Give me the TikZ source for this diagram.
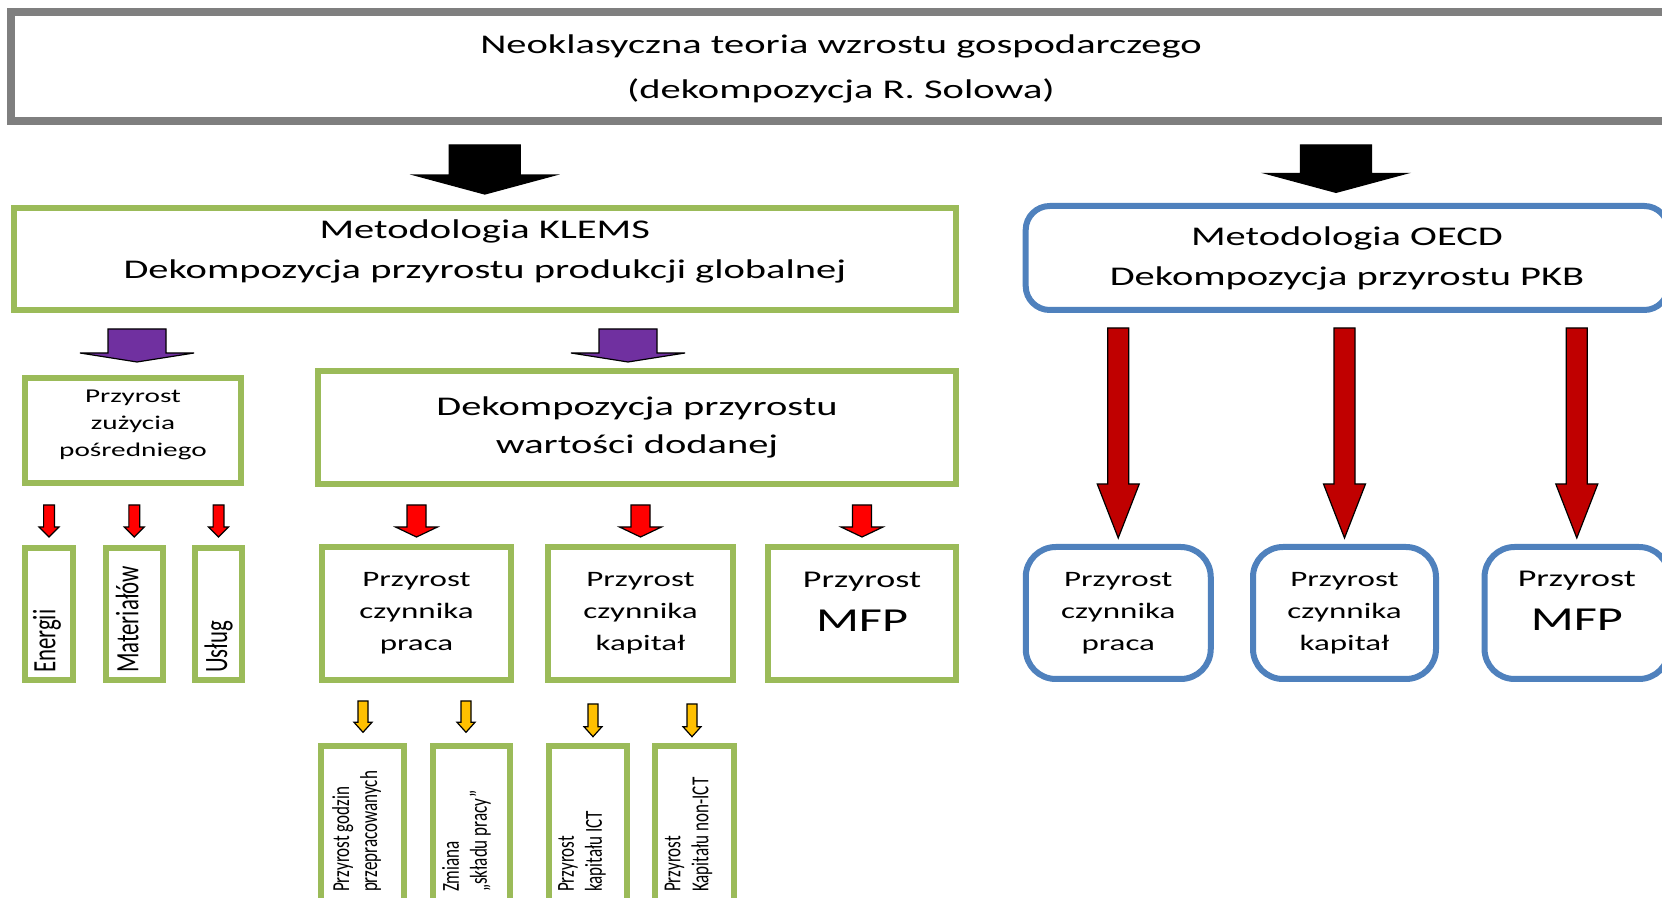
\documentclass[tikz,border=0pt]{standalone}
\usepackage{fontspec}
\setmainfont{Carlito}
\newfontfamily\widefont[FakeStretch=1.5]{Carlito}
\newfontfamily\rotfont[FakeStretch=0.7]{Carlito}
\usetikzlibrary{calc}
\definecolor{framegray}{HTML}{7F7F7F}
\definecolor{boxgreen}{HTML}{9BBB59}
\definecolor{boxblue}{HTML}{4F81BD}
\definecolor{arrpurple}{HTML}{7030A0}
\definecolor{arrred}{HTML}{FF0000}
\definecolor{arrdarkred}{HTML}{C00000}
\definecolor{arryellow}{HTML}{FFC000}
\tikzset{
  graybox/.style={draw=framegray, line width=4pt, fill=white, inner sep=0pt, align=center},
  greenbox/.style={draw=boxgreen, line width=3pt, fill=white, inner sep=0pt, align=center},
  bluebox/.style={draw=boxblue, line width=3pt, fill=white, inner sep=0pt, align=center, rounded corners=15pt},
  blockarr/.style n args={4}{fill=#4, draw=black, line width=0.6pt,
    to path={let \p1=(\tikztostart), \p2=(\tikztotarget) in
      ({\x1-#1},\y1) -- ({\x1+#1},\y1) -- ({\x1+#1},{\y2+#3}) -- ({\x1+#2},{\y2+#3})
      -- (\x1,\y2) -- ({\x1-#2},{\y2+#3}) -- ({\x1-#1},{\y2+#3}) -- cycle}},
  blackarr/.style={blockarr={17.75pt}{35.25pt}{9.5pt}{black}},
  purplearr/.style={blockarr={14.5pt}{28.5pt}{4.5pt}{arrpurple}},
  redsmall/.style={blockarr={2.7pt}{5pt}{5pt}{arrred}},
  redmid/.style={blockarr={4.75pt}{10.5pt}{5pt}{arrred}},
  yellowarr/.style={blockarr={2.5pt}{4.5pt}{5pt}{arryellow}},
  redlong/.style={blockarr={5.25pt}{10.5pt}{27pt}{arrdarkred}},
  bigtext/.style={font=\widefont\fontsize{13.5}{20}\selectfont},
  midtext/.style={font=\widefont\fontsize{11}{16}\selectfont},
  mfptext/.style={font=\widefont\fontsize{12}{21}\selectfont, text depth=12pt},
  sidetext/.style={font=\rotfont\fontsize{16.3}{18}\selectfont},
  smallside/.style={font=\rotfont\fontsize{12.2}{14}\selectfont},
}
\begin{document}
\begin{tikzpicture}[x=0.5pt, y=-0.5pt]
\useasboundingbox (0,0) rectangle (1662,898);
\clip (0,0) rectangle (1662,898);
\fill[white] (0,0) rectangle (1662,898);

% top frame
\node[graybox, minimum width=829.8pt, minimum height=54.25pt, text depth=0pt,
  font=\widefont\fontsize{13.5}{22.5}\selectfont] (title) at (841,66.75)
  {Neoklasyczna teoria wzrostu gospodarczego\\(dekompozycja R. Solowa)};

% KLEMS branch
\node[greenbox, bigtext, text depth=9.2pt, minimum width=471.2pt, minimum height=51pt] (klems) at (484.8,258.65)
  {Metodologia KLEMS\\Dekompozycja przyrostu produkcji globalnej};
\node[greenbox, font=\widefont\fontsize{9.75}{13.5}\selectfont, text depth=6.8pt, minimum width=108pt, minimum height=52.5pt] (posr) at (133,430.5)
  {Przyrost\\zużycia\\pośredniego};
\node[greenbox, font=\widefont\fontsize{13.5}{19}\selectfont, minimum width=319pt, minimum height=56.5pt] (wart) at (637,427.5)
  {Dekompozycja przyrostu\\wartości dodanej};
\node[greenbox, sidetext, minimum width=24pt, minimum height=66pt] (energii) at (49,614)
  {\rotatebox{90}{\parbox{59pt}{\raggedright Energii}}\hspace{2pt}};
\node[greenbox, sidetext, minimum width=28.75pt, minimum height=66pt] (materialow) at (134.25,614)
  {\rotatebox{90}{\parbox{59pt}{\raggedright Materiałów}}\hspace{7pt}};
\node[greenbox, sidetext, minimum width=23.5pt, minimum height=66pt] (uslug) at (218.5,614)
  {\rotatebox{90}{\parbox{59pt}{\raggedright Usług}}};
\node[greenbox, midtext, minimum width=94.5pt, minimum height=66.5pt] (praca) at (416.5,613.5)
  {Przyrost\\czynnika\\praca};
\node[greenbox, midtext, minimum width=92.5pt, minimum height=66.5pt] (kapital) at (640.5,613.5)
  {Przyrost\\czynnika\\kapitał};
\node[greenbox, mfptext, minimum width=94pt, minimum height=66.5pt] (mfp) at (862,613.5)
  {Przyrost\\[1pt]{\fontsize{16.75}{21}\selectfont MFP}};
\node[greenbox, smallside, minimum width=41.5pt, minimum height=82pt] (godzin) at (362.5,828)
  {\rotatebox{90}{\parbox{64pt}{\raggedright Przyrost godzin\\przepracowanych}}\hspace{6pt}};
\node[greenbox, smallside, minimum width=38.5pt, minimum height=82pt] (sklad) at (471.5,828)
  {\rotatebox{90}{\parbox{64pt}{\raggedright Zmiana\\ „składu pracy”}}\hspace{5pt}};
\node[greenbox, smallside, minimum width=39pt, minimum height=82pt] (ict) at (588,828)
  {\rotatebox{90}{\parbox{64pt}{\raggedright Przyrost\\kapitału ICT}}\hspace{6pt}};
\node[greenbox, smallside, minimum width=39.5pt, minimum height=82pt] (nonict) at (694.5,828)
  {\rotatebox{90}{\parbox{64pt}{\raggedright Przyrost\\Kapitału non-ICT}}\hspace{6pt}};

% OECD branch
\node[bluebox, bigtext, minimum width=321.3pt, minimum height=52pt, rounded corners=12pt] (oecd) at (1347,258)
  {Metodologia OECD\\Dekompozycja przyrostu PKB};
\node[bluebox, midtext, minimum width=92.5pt, minimum height=66pt] (pracao) at (1118.25,613)
  {Przyrost\\czynnika\\praca};
\node[bluebox, midtext, minimum width=91.5pt, minimum height=66pt] (kapitalo) at (1344.5,613)
  {Przyrost\\czynnika\\kapitał};
\node[bluebox, mfptext, minimum width=92.25pt, minimum height=66pt] (mfpo) at (1576.8,613)
  {Przyrost\\[1pt]{\fontsize{16.75}{21}\selectfont MFP}};

% block arrows
\draw[blackarr] ($(title.south -| klems.north)+(0,20)$) to ($(klems.north)+(0,-10.6)$);
\draw[blackarr] ($(title.south -| oecd.north)+(-11,20)$) to ($(oecd.north)+(-11,-10.6)$);
\draw[purplearr] ($(klems.south -| posr.north)+(4,16.3)$) to ($(posr.north)+(4,-13)$);
\draw[purplearr] ($(klems.south -| wart.north)+(-9,16.3)$) to ($(wart.north)+(-9,-6)$);
\foreach \b in {energii,materialow,uslug}
  \draw[redsmall] ($(posr.south -| \b.north)+(0,19)$) to ($(\b.north)+(0,-8)$);
\foreach \b in {praca,kapital,mfp}
  \draw[redmid] ($(wart.south -| \b.north)+(0,18)$) to ($(\b.north)+(0,-7)$);
\foreach \b/\dx in {godzin/0.5,sklad/-5.5}
  \draw[yellowarr] ($(praca.south -| \b.north)+(\dx,18)$) to ($(\b.north)+(\dx,-10.7)$);
\foreach \b/\dx in {ict/5,nonict/-2.5}
  \draw[yellowarr] ($(kapital.south -| \b.north)+(\dx,21)$) to ($(\b.north)+(\dx,-6.3)$);
\foreach \b in {pracao,kapitalo,mfpo}
  \draw[redlong] ($(oecd.south -| \b.north)+(0,15)$) to ($(\b.north)+(0,-6)$);
\end{tikzpicture}
\end{document}
